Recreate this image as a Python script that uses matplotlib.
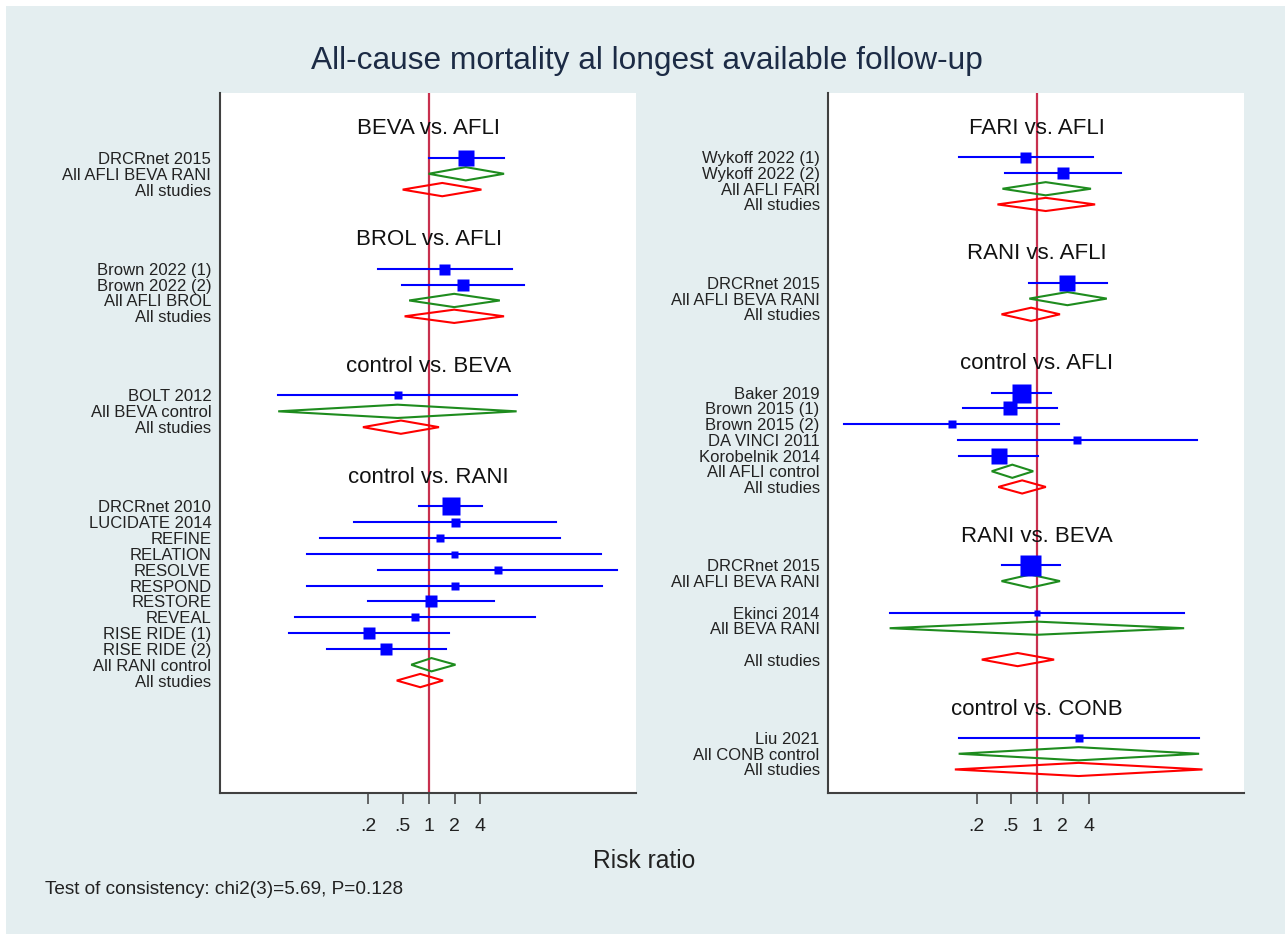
import numpy as np
import matplotlib
matplotlib.use('Agg')
import matplotlib.pyplot as plt
from matplotlib.patches import Rectangle

plt.rcParams['font.family'] = ['Liberation Sans', 'DejaVu Sans']

# ---- left panel data (risk ratios) ----
L_HEADERS = ['BEVA vs. AFLI', 'BROL vs. AFLI', 'control vs. BEVA', 'control vs. RANI']
L_HEAD_ROWS = [0, 7, 15, 22]
L_LABELS = ['DRCRnet 2015', 'All AFLI BEVA RANI', 'All studies',
            'Brown 2022 (1)', 'Brown 2022 (2)', 'All AFLI BROL', 'All studies',
            'BOLT 2012', 'All BEVA control', 'All studies',
            'DRCRnet 2010', 'LUCIDATE 2014', 'REFINE', 'RELATION', 'RESOLVE',
            'RESPOND', 'RESTORE', 'REVEAL', 'RISE RIDE (1)', 'RISE RIDE (2)',
            'All RANI control', 'All studies']
L_ROWS = [2, 3, 4, 9, 10, 11, 12, 17, 18, 19,
          24, 25, 26, 27, 28, 29, 30, 31, 32, 33, 34, 35]
L_KIND = ['s', 'n', 'a', 's', 's', 'n', 'a', 's', 'n', 'a',
          's', 's', 's', 's', 's', 's', 's', 's', 's', 's', 'n', 'a']
L_EST = [2.70, 2.70, 1.44, 1.52, 2.50, 1.98, 1.98, 0.436, 0.436, 0.477,
         1.80, 2.01, 1.35, 1.96, 6.33, 2.01, 1.07, 0.687, 0.204, 0.324, 1.08, 0.80]
L_LO = [1.0, 1.0, 0.50, 0.257, 0.488, 0.595, 0.527, 0.018, 0.018, 0.173,
        0.776, 0.138, 0.0553, 0.039, 0.257, 0.039, 0.197, 0.0279, 0.0241, 0.067, 0.629, 0.427]
L_HI = [7.5, 7.5, 4.1, 9.2, 12.9, 6.7, 7.5, 10.5, 10.5, 1.32,
        4.21, 30.1, 33.7, 99.5, 154, 103.5, 5.74, 17.1, 1.74, 1.61, 2.05, 1.47]
L_WEIGHT = [16, 0, 0, 11, 11.5, 0, 0, 7.5, 0, 0,
            17.5, 9, 8.3, 7, 8.3, 8.3, 11.5, 8.3, 11.2, 12.4, 0, 0]

# ---- right panel data ----
R_HEADERS = ['FARI vs. AFLI', 'RANI vs. AFLI', 'control vs. AFLI', 'RANI vs. BEVA', 'control vs. CONB']
R_HEAD_ROWS = [0, 8, 15, 26, 37]
R_LABELS = ['Wykoff 2022 (1)', 'Wykoff 2022 (2)', 'All AFLI FARI', 'All studies',
            'DRCRnet 2015', 'All AFLI BEVA RANI', 'All studies',
            'Baker 2019', 'Brown 2015 (1)', 'Brown 2015 (2)', 'DA VINCI 2011',
            'Korobelnik 2014', 'All AFLI control', 'All studies',
            'DRCRnet 2015', 'All AFLI BEVA RANI', 'Ekinci 2014', 'All BEVA RANI', 'All studies',
            'Liu 2021', 'All CONB control', 'All studies']
R_ROWS = [2, 3, 4, 5, 10, 11, 12, 17, 18, 19, 20, 21, 22, 23,
          28, 29, 31, 32, 34, 39, 40, 41]
R_KIND = ['s', 's', 'n', 'a', 's', 'n', 'a', 's', 's', 's', 's', 's', 'n', 'a',
          's', 'n', 's', 'n', 'a', 's', 'n', 'a']
R_EST = [0.733, 2.01, 1.27, 1.27, 2.27, 2.27, 0.86, 0.66, 0.487, 0.104, 2.97,
         0.362, 0.52, 0.677, 0.84, 0.84, 1.0, 1.0, 0.60, 3.06, 3.06, 3.06]
R_LO = [0.124, 0.425, 0.40, 0.35, 0.82, 0.82, 0.39, 0.30, 0.139, 0.00586, 0.122,
        0.126, 0.30, 0.358, 0.39, 0.39, 0.0196, 0.0196, 0.23, 0.124, 0.124, 0.112]
R_HI = [4.44, 9.5, 4.26, 4.76, 6.5, 6.5, 1.86, 1.46, 1.73, 1.80, 73,
        1.04, 0.91, 1.275, 1.86, 1.86, 51.4, 51.4, 1.59, 76.7, 76.7, 84]
R_WEIGHT = [11, 12, 0, 0, 16.5, 0, 0, 19, 14.6, 8, 8,
            16.6, 0, 0, 21, 0, 6.7, 0, 0, 8, 0, 0]

TICKS = [0.2, 0.5, 1, 2, 4]
TICK_LABELS = ['.2', '.5', '1', '2', '4']

BG = '#e4eef0'
COLORS = {'s': '#0000ff', 'n': '#1e8c1e', 'a': '#ff0000'}
NULL_COLOR = '#c8304e'
AX_COLOR = '#404040'


def forest(ax, headers, head_rows, labels, rows, kind, est, lo, hi, weight, ybottom):
    ax.set_xscale('log')
    ax.set_xlim(np.exp(-5.58), np.exp(5.54))
    ax.set_ylim(ybottom, -2.1)
    ax.axvline(1, color=NULL_COLOR, lw=1.6, zorder=1)
    h = 0.42
    for r, k, e, l, u, w in zip(rows, kind, est, lo, hi, weight):
        c = COLORS[k]
        if k == 's':
            ax.plot([l, u], [r, r], color=c, lw=1.5, zorder=2)
            ax.plot(e, r, 's', ms=w * 0.72, color=c, mec='none', zorder=3)
        else:
            ax.fill([l, e, u, e], [r, r - h, r, r + h], facecolor='none',
                    edgecolor=c, lw=1.5, zorder=2)
    for t, r in zip(headers, head_rows):
        ax.text(1, r + 0.15, t, ha='center', va='center', fontsize=16, color='#111111')
    ax.set_yticks(rows)
    ax.set_yticklabels(labels, fontsize=12, color='#222222')
    ax.tick_params(axis='y', length=0, pad=6)
    ax.set_xticks(TICKS)
    ax.set_xticklabels(TICK_LABELS, fontsize=14, color='#222222')
    ax.xaxis.set_minor_locator(matplotlib.ticker.NullLocator())
    ax.tick_params(axis='x', direction='out', length=8, width=1.1, color=AX_COLOR, pad=10)
    for s in ['top', 'right']:
        ax.spines[s].set_visible(False)
    for s in ['left', 'bottom']:
        ax.spines[s].set_color(AX_COLOR)
        ax.spines[s].set_linewidth(1.5)
    ax.set_facecolor('white')


W, H = 1285, 934
fig = plt.figure(figsize=(W / 100, H / 100), dpi=100, facecolor='white')
fig.patches.append(Rectangle((6 / W, 0), 1, 1 - 6 / H, transform=fig.transFigure,
                             facecolor=BG, edgecolor='none', zorder=-10))

y0 = 1 - 793 / H
hgt = (793 - 93) / H
ax1 = fig.add_axes([219.7 / W, y0, (636 - 219.7) / W, hgt])
ax2 = fig.add_axes([828 / W, y0, (1244 - 828) / W, hgt])

forest(ax1, L_HEADERS, L_HEAD_ROWS, L_LABELS, L_ROWS, L_KIND, L_EST, L_LO, L_HI, L_WEIGHT, 42.1)
forest(ax2, R_HEADERS, R_HEAD_ROWS, R_LABELS, R_ROWS, R_KIND, R_EST, R_LO, R_HI, R_WEIGHT, 42.5)

fig.text(647 / W, 1 - 61 / H, 'All-cause mortality al longest available follow-up',
         ha='center', va='center', fontsize=22.8, color='#1c2b45')
fig.text(644 / W, 1 - 861 / H, 'Risk ratio', ha='center', va='center',
         fontsize=17.7, color='#222222')
fig.text(45 / W, 1 - 889 / H, 'Test of consistency: chi2(3)=5.69, P=0.128',
         ha='left', va='center', fontsize=13.7, color='#222222')

fig.savefig('out.png', dpi=100, facecolor=fig.get_facecolor())
